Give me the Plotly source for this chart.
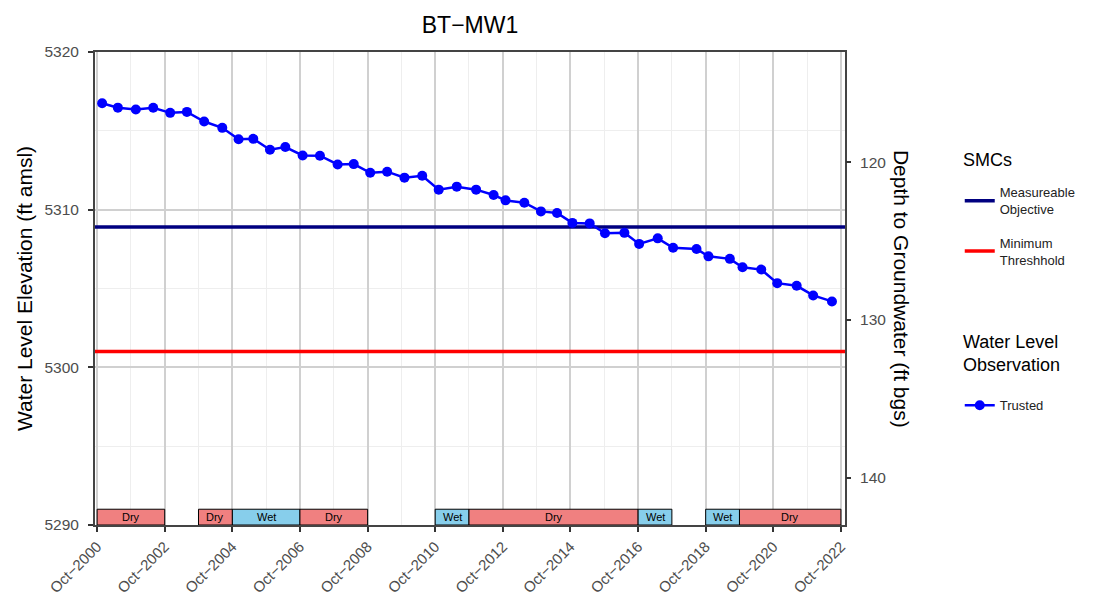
import pandas as pd
import plotly.graph_objects as go

# observations (semi-annual)
OBS_DATES = [
    "2000-11-24", "2001-05-13", "2001-11-23", "2002-05-30", "2002-11-29",
    "2003-05-29", "2003-12-01", "2004-06-14", "2004-12-07", "2005-05-15",
    "2005-11-11", "2006-04-26", "2006-10-30", "2007-05-05", "2007-11-12",
    "2008-05-04", "2008-10-29", "2009-04-30", "2009-11-03", "2010-05-14",
    "2010-11-08", "2011-05-22", "2011-12-17", "2012-06-23", "2012-10-30",
    "2013-05-21", "2013-11-16", "2014-05-09", "2014-10-22", "2015-04-27",
    "2015-10-09", "2016-05-06", "2016-10-12", "2017-05-01", "2017-10-14",
    "2018-06-24", "2018-10-31", "2019-06-19", "2019-11-03", "2020-05-23",
    "2020-11-12", "2021-06-10", "2021-12-05", "2022-06-26",
]
OBS_ELEV = [
    5316.75, 5316.47, 5316.35, 5316.46, 5316.14,
    5316.20, 5315.59, 5315.19, 5314.47, 5314.49,
    5313.80, 5313.97, 5313.44, 5313.42, 5312.87,
    5312.89, 5312.34, 5312.41, 5312.03, 5312.15,
    5311.27, 5311.46, 5311.27, 5310.93, 5310.59,
    5310.44, 5309.89, 5309.79, 5309.16, 5309.13,
    5308.50, 5308.53, 5307.83, 5308.18, 5307.58,
    5307.51, 5307.04, 5306.88, 5306.35, 5306.20,
    5305.34, 5305.17, 5304.56, 5304.18,
]

GROUND_SURFACE = 5433.0
MEASURABLE_OBJECTIVE = 5308.9
MINIMUM_THRESHOLD = 5301.0

# water-year type periods
PERIOD_START = ["2000-10-01", "2003-10-01", "2004-10-01", "2006-10-01", "2010-10-01",
                "2011-10-01", "2016-10-01", "2018-10-01", "2019-10-01"]
PERIOD_END = ["2002-10-01", "2004-10-01", "2006-10-01", "2008-10-01", "2011-10-01",
              "2016-10-01", "2017-10-01", "2019-10-01", "2022-10-01"]
PERIOD_TYPE = ["Dry", "Dry", "Wet", "Dry", "Wet", "Dry", "Wet", "Wet", "Dry"]
PERIOD_COLORS = {"Dry": "#F08080", "Wet": "#87CEEB"}
PERIOD_BOTTOM = 5290.0
PERIOD_TOP = 5291.0

X_RANGE = ["2000-09-08", "2022-11-14"]
Y_RANGE = [5290, 5320]
X_TICKS = ["2000-10-01", "2002-10-01", "2004-10-01", "2006-10-01", "2008-10-01", "2010-10-01",
           "2012-10-01", "2014-10-01", "2016-10-01", "2018-10-01", "2020-10-01", "2022-10-01"]
X_TICK_TEXT = ["Oct\u22122000", "Oct\u22122002", "Oct\u22122004", "Oct\u22122006",
               "Oct\u22122008", "Oct\u22122010", "Oct\u22122012", "Oct\u22122014",
               "Oct\u22122016", "Oct\u22122018", "Oct\u22122020", "Oct\u22122022"]
DEPTH_TICKS = [120, 130, 140]

FONT = "Liberation Sans, Arial, sans-serif"
TICK_COLOR = "#4d4d4d"

fig = go.Figure()

fig.add_trace(go.Scatter(
    x=X_RANGE, y=[MEASURABLE_OBJECTIVE] * 2, mode="lines",
    name="Measureable<br>Objective", line=dict(color="#000080", width=3.5),
    legend="legend", legendgroup="mo", hoverinfo="skip",
))
fig.add_trace(go.Scatter(
    x=X_RANGE, y=[MINIMUM_THRESHOLD] * 2, mode="lines",
    name="Minimum<br>Threshhold", line=dict(color="#FF0000", width=3.5),
    legend="legend", legendgroup="mt", hoverinfo="skip",
))
fig.add_trace(go.Scatter(
    x=OBS_DATES, y=OBS_ELEV, mode="lines+markers", name="Trusted",
    line=dict(color="#0000FF", width=2.5), marker=dict(color="#0000FF", size=10),
    legend="legend2",
))
# invisible trace so the depth axis is drawn
fig.add_trace(go.Scatter(
    x=OBS_DATES, y=[GROUND_SURFACE - v for v in OBS_ELEV], yaxis="y2",
    mode="markers", marker=dict(opacity=0), showlegend=False, hoverinfo="skip",
))

# wet / dry period boxes along the bottom
for start, end, kind in zip(PERIOD_START, PERIOD_END, PERIOD_TYPE):
    fig.add_shape(
        type="rect", xref="x", yref="y", x0=start, x1=end, y0=PERIOD_BOTTOM, y1=PERIOD_TOP,
        fillcolor=PERIOD_COLORS[kind], line=dict(color="black", width=1), layer="above",
    )
    s, e = pd.Timestamp(start), pd.Timestamp(end)
    fig.add_annotation(
        x=s + (e - s) / 2, y=(PERIOD_BOTTOM + PERIOD_TOP) / 2, xref="x", yref="y",
        text=kind, showarrow=False, font=dict(size=11, color="black", family=FONT),
    )

fig.add_annotation(
    x=1.0755, y=0.5, xref="paper", yref="paper", xanchor="center", yanchor="middle",
    text="Depth to Groundwater (ft bgs)", textangle=90, showarrow=False,
    font=dict(size=21, color="black", family=FONT),
)
# legend titles
fig.add_annotation(
    x=1.1547, y=0.772, xref="paper", yref="paper", xanchor="left", yanchor="middle",
    text="SMCs", showarrow=False, font=dict(size=18, color="black", family=FONT),
)
fig.add_annotation(
    x=1.1547, y=0.362, xref="paper", yref="paper", xanchor="left", yanchor="middle",
    text="Water Level<br>Observation", align="left", showarrow=False,
    font=dict(size=18, color="black", family=FONT),
)

fig.update_layout(
    width=1094, height=605,
    margin=dict(l=87, r=257, t=44, b=88),
    paper_bgcolor="white", plot_bgcolor="white",
    font=dict(family=FONT),
    title=dict(text="BT\u2212MW1", x=0.5, xref="paper", y=1 - 17 / 605, yanchor="middle",
               font=dict(size=23, color="black")),
    xaxis=dict(
        type="date", range=X_RANGE, tickvals=X_TICKS, ticktext=X_TICK_TEXT,
        tickangle=-45, tickfont=dict(size=15, color=TICK_COLOR),
        ticks="outside", ticklen=5, tickwidth=2, tickcolor="#333333",
        showgrid=True, gridcolor="#d0d0d0", gridwidth=2,
        minor=dict(dtick="M12", tick0="2000-10-01", showgrid=True, gridcolor="#eeeeee", gridwidth=1),
        showline=True, linecolor="#444444", linewidth=2, mirror=True, zeroline=False,
    ),
    yaxis=dict(
        range=Y_RANGE, dtick=10, tickfont=dict(size=15.5, color=TICK_COLOR),
        ticks="outside", ticklen=5, tickwidth=2, tickcolor="#333333", ticklabelstandoff=6,
        showgrid=True, gridcolor="#d0d0d0", gridwidth=2,
        minor=dict(dtick=5, showgrid=True, gridcolor="#eeeeee", gridwidth=1),
        showline=True, linecolor="#444444", linewidth=2, mirror=True, zeroline=False,
        title=dict(text="Water Level Elevation (ft amsl)", standoff=6,
                   font=dict(size=21, color="black")),
    ),
    yaxis2=dict(
        overlaying="y", side="right",
        range=[GROUND_SURFACE - Y_RANGE[0], GROUND_SURFACE - Y_RANGE[1]],
        tickvals=DEPTH_TICKS, tickfont=dict(size=15.5, color=TICK_COLOR),
        ticks="outside", ticklen=5, tickwidth=2, tickcolor="#333333", ticklabelstandoff=6,
        showgrid=False, zeroline=False, showline=False,
    ),
    legend=dict(
        x=1.153, xanchor="left", y=0.735, yanchor="top", itemwidth=30,
        font=dict(size=13, color="#222222"), tracegroupgap=13.5,
        bgcolor="rgba(0,0,0,0)",
    ),
    legend2=dict(
        x=1.153, xanchor="left", y=0.2848, yanchor="top", itemwidth=30,
        font=dict(size=13, color="#222222"),
        bgcolor="rgba(0,0,0,0)",
    ),
    showlegend=True,
)

fig.write_html("out.html")
